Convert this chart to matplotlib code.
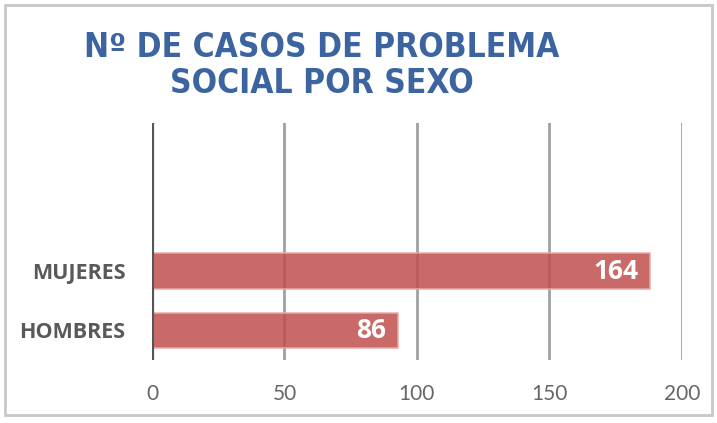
import matplotlib.pyplot as plt
from matplotlib.patches import Rectangle

# datos
categorias = ['HOMBRES', 'MUJERES']
longitudes = [93, 188]      # largo de las barras sobre el eje
etiquetas = ['86', '164']   # numeros escritos en las barras
ticks_x = [0, 50, 100, 150, 200]

fig = plt.figure(figsize=(7.17, 4.23), dpi=100)
ax = fig.add_axes([0.212, 0.149, 0.739, 0.56])

# marco gris alrededor de la figura
fig.patches.append(Rectangle((0.007, 0.018), 0.986, 0.97, transform=fig.transFigure,
                             fill=False, edgecolor='#C8C8C8', linewidth=2))

ax.set_axisbelow(True)
for t in ticks_x[1:]:
    ax.axvline(t, color='#A0A0A0', linewidth=2, zorder=0)

pos = range(len(categorias))
ax.barh(pos, longitudes, height=0.6, color='#C0504D', alpha=0.85,
        edgecolor='#E9A9A7', linewidth=1.2, zorder=2)

for p, l, txt in zip(pos, longitudes, etiquetas):
    ax.text(l - 4.5, p, txt, ha='right', va='center', color='white',
            fontsize=19, fontweight='bold', family='Open Sans', zorder=3)

ax.axvline(0, color='#555555', linewidth=3, zorder=4)

ax.set_xlim(0, 200)
ax.set_ylim(-0.5, 3.5)
ax.set_xticks(ticks_x)
ax.set_xticklabels([str(t) for t in ticks_x], fontsize=15, color='#666666', family='Lato')
ax.set_yticks(list(pos))
ax.set_yticklabels(categorias, fontsize=15.5, fontweight='bold', color='#595959', family='Open Sans')
ax.tick_params(length=0)
ax.tick_params(axis='x', pad=17)
ax.tick_params(axis='y', pad=19)
for s in ax.spines.values():
    s.set_visible(False)

fig.text(0.449, 0.845, 'Nº DE CASOS DE PROBLEMA\nSOCIAL POR SEXO', ha='center', va='center',
         fontsize=24, fontweight='bold', color='#3B64A0', linespacing=1.1,
         family='DejaVu Sans', fontstretch='condensed')

fig.savefig('out.png', dpi=100)
